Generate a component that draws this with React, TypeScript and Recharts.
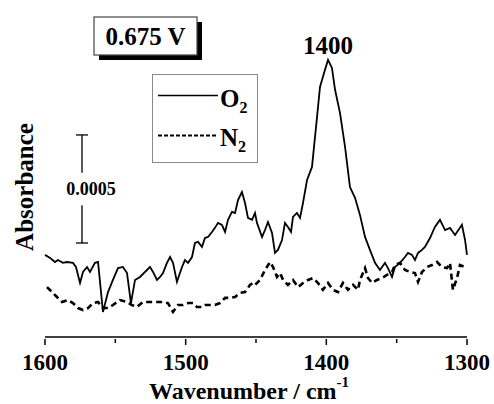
import { LineChart, Line, XAxis, YAxis, ReferenceLine, ReferenceDot } from 'recharts';

const FONT = '"Liberation Serif", "Times New Roman", serif';

// wavenumber (cm-1) and absorbance (x 1e-4, arbitrary offset)
const o2Wavenumber = [
  1600, 1596.4, 1592.9, 1590.8, 1587.2, 1584.4, 1580.1, 1578.0, 1575.1, 1573.0,
  1570.1, 1568.0, 1564.5, 1562.3, 1558.8, 1555.2, 1551.7, 1548.1, 1544.6, 1541.7,
  1538.9, 1536.0, 1532.5, 1527.5, 1525.4, 1523.2, 1520.4, 1518.2, 1516.1, 1513.3,
  1511.1, 1509.0, 1506.2, 1502.6, 1500.5, 1498.3, 1495.5, 1493.4, 1491.2, 1488.4,
  1486.3, 1484.1, 1481.3, 1479.2, 1477.0, 1474.2, 1472.0, 1469.9, 1467.1, 1464.9,
  1462.8, 1460.0, 1457.8, 1455.7, 1452.8, 1450.7, 1449.3, 1445.7, 1443.6, 1441.5,
  1438.6, 1436.5, 1434.4, 1431.5, 1429.4, 1427.3, 1425.1, 1423.7, 1420.9, 1418.7,
  1416.6, 1413.7, 1410.2, 1406.6, 1404.5, 1401.0, 1398.8, 1396.0, 1393.8, 1390.3,
  1386.7, 1383.2, 1379.6, 1376.1, 1372.5, 1369.0, 1365.4, 1361.9, 1358.3, 1356.2,
  1353.3, 1351.2, 1347.6, 1344.1, 1342.0, 1339.1, 1337.0, 1334.8, 1332.0, 1329.9,
  1326.3, 1322.8, 1319.2, 1315.6, 1312.1, 1308.5, 1303.6, 1301.4, 1300,
];
const o2Absorbance = [
  3.80, 3.66, 3.47, 3.56, 3.43, 3.47, 3.43, 3.24, 2.50, 3.01,
  3.24, 3.01, 3.43, 3.47, 1.16, 2.08, 2.64, 3.19, 3.24, 2.96,
  1.57, 2.64, 2.78, 3.10, 3.24, 3.01, 2.64, 2.78, 2.96, 3.43,
  3.70, 3.43, 2.55, 3.24, 3.56, 3.43, 3.70, 4.35, 4.40, 4.17,
  4.58, 4.63, 4.86, 5.05, 5.28, 5.19, 4.86, 5.42, 5.79, 5.74,
  6.34, 6.71, 6.20, 5.51, 5.42, 5.74, 5.28, 4.63, 4.95, 5.32,
  4.81, 3.89, 4.03, 4.49, 5.28, 5.09, 4.86, 5.56, 5.74, 5.51,
  6.20, 7.27, 7.87, 10.19, 11.57, 12.36, 12.82, 12.45, 11.44, 10.37,
  8.80, 6.94, 6.44, 5.65, 4.63, 4.03, 3.43, 3.10, 3.43, 3.19,
  2.78, 3.24, 3.43, 3.70, 3.89, 3.80, 3.56, 3.89, 4.03, 4.17,
  4.58, 5.09, 5.42, 4.95, 5.05, 4.72, 5.19, 4.49, 3.80,
];

const n2Wavenumber = [
  1598.6, 1595.0, 1591.5, 1587.9, 1583.6, 1580.1, 1576.5, 1573.0, 1569.4, 1565.9,
  1562.3, 1558.8, 1555.2, 1551.7, 1546.7, 1541.7, 1538.2, 1534.6, 1530.3, 1524.0,
  1520.4, 1516.1, 1512.6, 1509.0, 1505.5, 1501.9, 1498.3, 1494.8, 1492.0, 1488.4,
  1486.3, 1482.7, 1479.2, 1475.6, 1472.0, 1468.5, 1464.9, 1461.4, 1457.8, 1454.3,
  1452.1, 1450.7, 1447.2, 1443.6, 1440.0, 1437.9, 1435.1, 1432.9, 1430.8, 1427.3,
  1423.7, 1420.1, 1416.6, 1413.0, 1409.5, 1405.9, 1402.4, 1398.8, 1395.3, 1391.7,
  1388.2, 1384.6, 1381.0, 1377.5, 1376.1, 1372.5, 1370.4, 1367.5, 1364.0, 1360.4,
  1356.9, 1353.3, 1351.2, 1347.6, 1344.1, 1340.5, 1337.0, 1334.8, 1332.0, 1328.4,
  1324.9, 1321.3, 1317.8, 1314.2, 1312.1, 1310.0, 1307.1, 1305.0, 1301.4, 1300,
];
const n2Absorbance = [
  2.31, 2.08, 1.85, 1.62, 1.71, 1.57, 1.34, 1.25, 1.34, 1.57,
  1.62, 1.34, 1.34, 1.48, 1.71, 1.62, 1.48, 1.39, 1.62, 1.62,
  1.62, 1.62, 1.57, 1.16, 1.48, 1.48, 1.57, 1.57, 1.39, 1.39,
  1.48, 1.48, 1.48, 1.57, 1.81, 1.81, 1.85, 2.04, 2.08, 2.41,
  2.50, 2.41, 2.64, 3.10, 3.47, 3.24, 2.78, 2.96, 2.64, 2.41,
  2.64, 2.31, 2.50, 2.64, 2.73, 2.50, 2.18, 2.50, 2.18, 2.08,
  2.50, 2.18, 2.41, 2.18, 2.64, 3.19, 2.73, 2.50, 2.64, 2.73,
  2.87, 3.01, 3.33, 3.43, 3.10, 3.01, 2.96, 2.55, 3.01, 3.24,
  3.33, 3.47, 3.24, 3.19, 3.43, 2.18, 2.73, 3.33, 3.24, 3.19,
];

const xTicks = [1600, 1550, 1500, 1450, 1400, 1350, 1300];
const majorTicks = [1600, 1500, 1400, 1300];

// scale bar: 0.0005 absorbance = 5 units
const scaleBarX = 1573.7;
const scaleBarBottom = 4.35;
const scaleBarTop = 9.35;

const o2Data = o2Wavenumber.map((w, i) => ({ w, a: o2Absorbance[i] }));
const n2Data = n2Wavenumber.map((w, i) => ({ w, a: n2Absorbance[i] }));

function WaveTick(props: any) {
  const { x, y, payload } = props;
  const major = majorTicks.includes(payload.value);
  return (
    <g>
      <line x1={x} x2={x} y1={y} y2={y + (major ? 6 : 4)} stroke="#000" strokeWidth={1.5} />
      {major && (
        <text x={x} y={y + 31} textAnchor="middle" fontFamily={FONT} fontWeight="bold" fontSize={23} fill="#000">
          {payload.value}
        </text>
      )}
    </g>
  );
}

export default function App() {
  return (
    <div style={{ position: 'absolute', left: 0, top: 0, width: 494, height: 404, background: '#fff' }}>
      <LineChart width={494} height={404} data={o2Data} margin={{ top: 15, right: 27, left: 45, bottom: 0 }}>
        <XAxis
          dataKey="w"
          type="number"
          domain={[1300, 1600]}
          reversed
          ticks={xTicks}
          interval={0}
          tickLine={false}
          tickSize={0}
          tick={<WaveTick />}
          height={67}
          axisLine={{ stroke: '#000', strokeWidth: 1.5 }}
        />
        <YAxis
          type="number"
          domain={[0, 14.9]}
          width={0}
          tick={false}
          tickLine={false}
          axisLine={{ stroke: '#000', strokeWidth: 1.5 }}
        />
        <ReferenceLine
          segment={[{ x: scaleBarX, y: scaleBarTop }, { x: scaleBarX, y: 7.6 }]}
          stroke="#000"
          strokeWidth={1.3}
        />
        <ReferenceLine
          segment={[{ x: scaleBarX, y: 6.1 }, { x: scaleBarX, y: scaleBarBottom }]}
          stroke="#000"
          strokeWidth={1.3}
        />
        <ReferenceLine
          segment={[{ x: scaleBarX + 4.3, y: scaleBarTop }, { x: scaleBarX - 4.3, y: scaleBarTop }]}
          stroke="#000"
          strokeWidth={1.3}
        />
        <ReferenceLine
          segment={[{ x: scaleBarX + 4.3, y: scaleBarBottom }, { x: scaleBarX - 4.3, y: scaleBarBottom }]}
          stroke="#000"
          strokeWidth={1.3}
        />
        <Line
          data={n2Data}
          dataKey="a"
          type="linear"
          stroke="#000"
          strokeWidth={2.6}
          strokeDasharray="6 4"
          dot={false}
          isAnimationActive={false}
        />
        <Line
          data={o2Data}
          dataKey="a"
          type="linear"
          stroke="#000"
          strokeWidth={1.8}
          dot={false}
          isAnimationActive={false}
        />
        <ReferenceDot
          x={1398.8}
          y={12.82}
          r={0}
          stroke="none"
          label={{ value: '1400', position: 'top', offset: 6, fontFamily: FONT, fontWeight: 'bold', fontSize: 25, fill: '#000' }}
        />
      </LineChart>
      <svg width={494} height={404} style={{ position: 'absolute', left: 0, top: 0, pointerEvents: 'none' }}>
        <text
          transform="translate(33,187) rotate(-90)"
          textAnchor="middle"
          fontFamily={FONT}
          fontWeight="bold"
          fontSize={25}
          fill="#000"
        >
          Absorbance
        </text>
        <text x={149} y={399} fontFamily={FONT} fontWeight="bold" fontSize={24} fill="#000">
          Wavenumber / cm
          <tspan dy={-12} fontSize={15}>-1</tspan>
        </text>
        <text x={91} y={195} textAnchor="middle" fontFamily={FONT} fontWeight="bold" fontSize={18} fill="#000">
          0.0005
        </text>
        <rect x={99} y={22} width={103} height={38} fill="#000" />
        <rect x={94} y={17} width={103} height={38} fill="#fff" stroke="#444" strokeWidth={1.2} />
        <text x={145.5} y={45} textAnchor="middle" fontFamily={FONT} fontWeight="bold" fontSize={25} fill="#000">
          0.675 V
        </text>
        <rect x={152.5} y={74.5} width={105} height={88} fill="#fff" stroke="#888" strokeWidth={1} />
        <line x1={158} x2={218} y1={95.5} y2={95.5} stroke="#000" strokeWidth={1.6} />
        <text x={220} y={107} fontFamily={FONT} fontWeight="bold" fontSize={25} fill="#000">
          O<tspan dy={6} fontSize={16}>2</tspan>
        </text>
        <line x1={158} x2={218} y1={135.5} y2={135.5} stroke="#000" strokeWidth={1.8} strokeDasharray="4 2" />
        <text x={220} y={146} fontFamily={FONT} fontWeight="bold" fontSize={25} fill="#000">
          N<tspan dy={6} fontSize={16}>2</tspan>
        </text>
      </svg>
    </div>
  );
}
